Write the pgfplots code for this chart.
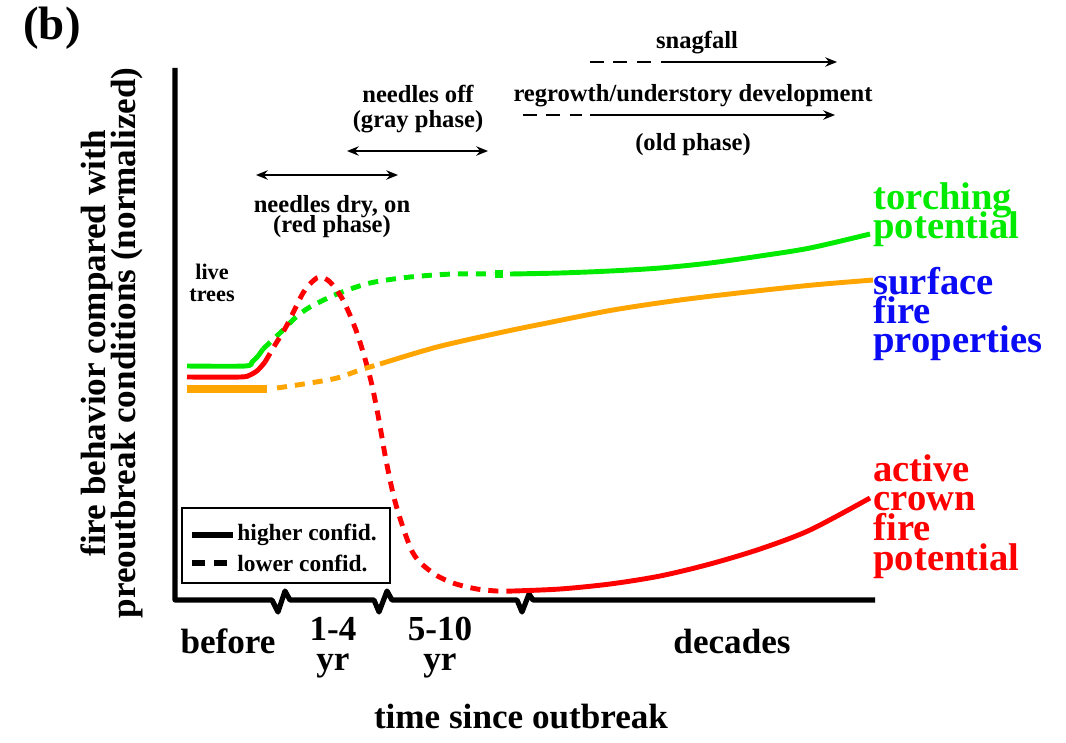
\documentclass[border=0pt]{standalone}
\usepackage{pgfplots}
\pgfplotsset{compat=1.18}
\usepackage{fontspec}
\setmainfont{Liberation Serif}
\usetikzlibrary{arrows.meta}
\definecolor{cgreen}{RGB}{0,235,0}
\definecolor{cred}{RGB}{255,0,0}
\definecolor{corange}{RGB}{255,165,0}
\definecolor{cblue}{RGB}{10,10,245}
% stacked side label, tight baselines
\newcommand{\stack}[2]{\vtop{\baselineskip=#1\lineskiplimit=-100pt\lineskip=0pt #2}}
\begin{document}
\begin{tikzpicture}[
  big/.style={font=\bfseries\fontsize{15}{17}\selectfont, inner sep=0pt, text height=0.7em, text depth=0.2em},
  small/.style={font=\bfseries\fontsize{10.5}{12}\selectfont, inner sep=0pt, text height=0.7em, text depth=0.2em},
  side/.style={font=\bfseries\fontsize{16.5}{18}\selectfont, inner sep=0pt, anchor=base west},
  curve/.style={line width=2.1pt},
  lowdash/.style={dash pattern=on 4.3pt off 3.4pt},
  arr/.style={line width=0.8pt, -{Stealth[length=5pt,width=4pt]}},
]
\begin{axis}[
    scale only axis,
    width=16cm, height=11.137cm,
    xmin=0, xmax=1066, ymin=0, ymax=742,
    hide axis, clip=false,
]

% axes with breaks
\addplot[black, line width=2.2pt, line join=round] coordinates {
  (175,674) (175,142) (272,142) (278,130) (285,151) (290,142)
  (374,142) (379,130) (387,151) (392,142)
  (517,142) (522,130) (529,148) (533,142) (875,142)};

% torching potential (green)
\addplot[cgreen, curve, smooth] coordinates {
  (187,376) (245,376) (252,380) (258,386) (263,393)};
\addplot[cgreen, curve, lowdash, smooth] coordinates {
  (263,393) (280,409) (295,424) (310,435) (337,448) (370,459)
  (410,465) (453,468) (494,468)};
\addplot[cgreen, line width=3.6pt] coordinates {(495,468) (503,468)};
\addplot[cgreen, curve, smooth] coordinates {
  (510,468) (560,469) (610,471) (660,474) (710,479) (760,486) (810,494) (870,508)};

% active crown fire potential (red)
\addplot[cred, curve, smooth] coordinates {
  (187,365) (240,365) (250,367) (258,372) (265,380)};
\addplot[cred, curve, lowdash, smooth] coordinates {
  (265,380) (275,397) (287,417) (303,449) (313,461) (320,465) (330,460)
  (343,442) (357,409) (370,365) (378,327) (386,282) (396,237)
  (413,189) (433,169) (453,159) (477,153) (497,151) (513,151)};
\addplot[cred, curve, smooth] coordinates {
  (513,151) (560,153) (610,158) (660,166) (710,178) (760,193) (810,212) (870,244)};

% surface fire properties (orange)
\addplot[corange, line width=3.4pt] coordinates {(187,353) (267,353)};
\addplot[corange, curve, lowdash, smooth] coordinates {
  (277,354) (310,359) (337,364) (360,372) (380,378)};
\addplot[corange, curve, smooth] coordinates {
  (380,378) (437,395) (503,410) (547,419) (613,432) (680,442)
  (747,450) (813,457) (873,462)};

% legend box
\draw[black, line width=0.7pt] (axis cs:182,159) rectangle (axis cs:390,234);
\addplot[black, line width=2.2pt] coordinates {(192,207) (233,207)};
\addplot[black, line width=2.2pt, dash pattern=on 5.5pt off 4pt] coordinates {(192,179) (233,179)};
\node[font=\bfseries\fontsize{10}{12}\selectfont, anchor=west, inner sep=0pt] at (axis cs:237,207) {higher confid.};
\node[font=\bfseries\fontsize{10}{12}\selectfont, anchor=west, inner sep=0pt] at (axis cs:237,179) {lower confid.};

% phase arrows
\draw[line width=0.8pt, {Stealth[length=5pt,width=4pt]}-{Stealth[length=5pt,width=4pt]}] (axis cs:256,567) -- (axis cs:398,567);
\draw[line width=0.8pt, {Stealth[length=5pt,width=4pt]}-{Stealth[length=5pt,width=4pt]}] (axis cs:347,591) -- (axis cs:488,591);
\draw[line width=0.8pt, dash pattern=on 6pt off 4pt] (axis cs:590,680) -- (axis cs:653,680);
\draw[arr] (axis cs:661,680) -- (axis cs:837,680);
\draw[line width=0.8pt, dash pattern=on 6pt off 4pt] (axis cs:523,627) -- (axis cs:582,627);
\draw[arr] (axis cs:590,627) -- (axis cs:835,627);

% phase texts
\node[small] at (axis cs:332,535) {needles dry, on};
\node[small] at (axis cs:332,515) {(red phase)};
\node[small] at (axis cs:418,645) {needles off};
\node[small] at (axis cs:418,620) {(gray phase)};
\node[small] at (axis cs:697,699) {snagfall};
\node[small] at (axis cs:693,646) {regrowth/understory development};
\node[small] at (axis cs:693,597) {(old phase)};
\node[font=\bfseries\fontsize{9.5}{11}\selectfont, inner sep=0pt, text height=0.7em, text depth=0.2em] at (axis cs:212,468) {live};
\node[font=\bfseries\fontsize{9.5}{11}\selectfont, inner sep=0pt, text height=0.7em, text depth=0.2em] at (axis cs:212,446) {trees};

% panel label
\node[font=\bfseries\fontsize{20}{24}\selectfont, inner sep=0pt] at (axis cs:52,714) {(b)};

% y label
\node[big, rotate=90] at (axis cs:100,399) {fire behavior compared with};
\node[big, rotate=90] at (axis cs:130,399) {preoutbreak conditions (normalized)};

% x labels
\node[big] at (axis cs:228,94) {before};
\node[big] at (axis cs:333,107) {1-4};
\node[big] at (axis cs:333,77) {yr};
\node[big] at (axis cs:440,107) {5-10};
\node[big] at (axis cs:440,77) {yr};
\node[big] at (axis cs:732,94) {decades};
\node[big] at (axis cs:521,19) {time since outbreak};

% side labels
\node[side, text=cgreen] at (axis cs:873,533)
  {\stack{12.8pt}{\hbox{torching}\hbox{potential}}};
\node[side, text=cblue] at (axis cs:873,448)
  {\stack{12.4pt}{\hbox{surface}\hbox{fire}\hbox{properties}}};
\node[side, text=cred] at (axis cs:873,261)
  {\stack{12.8pt}{\hbox{active}\hbox{crown}\hbox{fire}\hbox{potential}}};

\end{axis}
\path (current axis.south west) rectangle (current axis.north east);
\end{tikzpicture}
\end{document}
